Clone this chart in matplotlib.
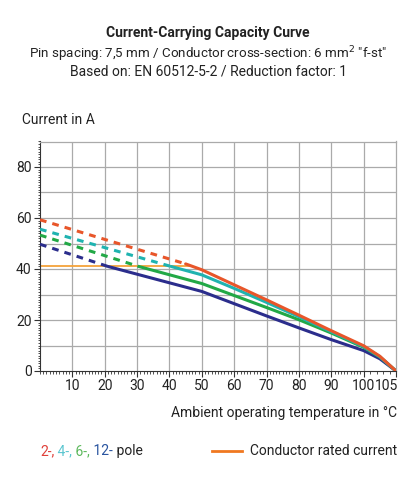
import numpy as np
import matplotlib
matplotlib.use("Agg")
import matplotlib.pyplot as plt

plt.rcParams['font.family'] = ['Roboto', 'DejaVu Sans']

# conductor rated current (A)
rated_current = 41

# dashed part (above rated current): start at 0 degC, end where it meets the rating
dash_x = {"2": [0, 45], "4": [0, 40.5], "6": [0, 30.5], "12": [0, 21]}
dash_y = {"2": [59.3, 42], "4": [55.6, 41], "6": [53.3, 41], "12": [49.7, 41]}

# solid part
solid_x = {
    "2": [45, 50, 60, 70, 80, 90, 100, 102.5, 105],
    "4": [40.5, 50, 60, 70, 80, 90, 100, 102.5, 105],
    "6": [30.5, 50, 60, 70, 80, 90, 100, 102.5, 105],
    "12": [21, 50, 60, 70, 80, 90, 100, 102.5, 105],
}
solid_y = {
    "2": [42, 39.7, 33.8, 27.9, 21.9, 15.8, 9.9, 5.8, 0],
    "4": [41, 37.7, 32.4, 26.9, 21.3, 15.4, 9.6, 5.6, 0],
    "6": [41, 34.3, 29.6, 24.9, 20.1, 14.9, 9.3, 5.5, 0],
    "12": [41, 31.2, 26.4, 21.6, 16.9, 12.3, 8, 4.8, 0],
}
colors = {"2": "#e8562a", "4": "#1fb3b0", "6": "#22a846", "12": "#2b2d8c"}
text_colors = {"2": "#e0403a", "4": "#5cc6d0", "6": "#5cb85c", "12": "#2a55a0"}

xticks = [10, 20, 30, 40, 50, 60, 70, 80, 90, 100, 105]
yticks = [0, 20, 40, 60, 80]


# the last 5 degrees take a full grid cell on the chart
def fwd(x):
    x = np.asarray(x, dtype=float)
    return np.where(x <= 100, x, 100 + (x - 100) * 2)


def inv(x):
    x = np.asarray(x, dtype=float)
    return np.where(x <= 100, x, 100 + (x - 100) / 2)


fig = plt.figure(figsize=(4.16, 4.88), dpi=100)
ax = fig.add_axes([40 / 416, 1 - 371 / 488, 356 / 416, 229.5 / 488])
ax.set_xscale('function', functions=(fwd, inv))
ax.set_xlim(0, 105)
ax.set_ylim(0, 90)

ax.set_xticks(xticks)
# last label is drawn separately so it can sit right-aligned at the edge
ax.set_xticklabels([str(t) for t in xticks[:-1]] + [""])
ax.set_xticks(np.arange(0, 106, 1), minor=True)
ax.set_yticks(yticks)
ax.set_yticks(np.arange(0, 91, 1), minor=True)
ax.grid(False)
for gx in range(10, 101, 10):
    ax.axvline(gx, color="#aaaaaa", lw=0.9, zorder=0)
for gy in range(10, 91, 10):
    ax.axhline(gy, color="#aaaaaa", lw=0.9, zorder=0)

ax.tick_params(which='major', length=4, width=0.8, color="#333333",
               labelsize=10, labelcolor="#222222", pad=2)
ax.tick_params(which='minor', length=1.8, width=0.6, color="#333333")
ax.annotate(str(xticks[-1]), xy=(xticks[-1], 0), xycoords=('data', 'axes fraction'),
            xytext=(1.5, -6), textcoords='offset points', ha='right', va='top',
            fontsize=10, color="#222222", annotation_clip=False)

for s in ['top', 'right']:
    ax.spines[s].set_color("#aaaaaa")
    ax.spines[s].set_linewidth(0.9)
for s in ['left', 'bottom']:
    ax.spines[s].set_color("#333333")
    ax.spines[s].set_linewidth(0.8)

# rated current line
ax.plot([0, 46.5], [rated_current, rated_current], color="#f5a33a", lw=1.3, zorder=2)

for k in ["12", "6", "4", "2"]:
    ax.plot(dash_x[k], dash_y[k], color=colors[k], lw=2.2, ls=(0, (2.2, 2.0)), zorder=3)
    ax.plot(solid_x[k], solid_y[k], color=colors[k], lw=2.2, zorder=3,
            solid_capstyle='round', solid_joinstyle='round')

# texts
fs = 10
fig.text(0.5, 1 - 33 / 488, "Current-Carrying Capacity Curve", ha='center', va='center',
         fontsize=fs, fontweight='bold', color="#222222")
fig.text(0.5, 1 - 54 / 488, 'Pin spacing: 7,5 mm / Conductor cross-section: 6 mm$^2$ "f-st"',
         ha='center', va='center', fontsize=9.6, color="#222222")
fig.text(0.5, 1 - 72 / 488, "Based on: EN 60512-5-2 / Reduction factor: 1", ha='center',
         va='center', fontsize=fs, color="#222222")
fig.text(22 / 416, 1 - 120 / 488, "Current in A", ha='left', va='center', fontsize=fs,
         color="#222222")
fig.text(397 / 416, 1 - 413 / 488, "Ambient operating temperature in °C", ha='right',
         va='center', fontsize=fs, color="#222222")

# legend: pole counts in their colours, then the rated current line
prev = fig.text(40 / 416, 1 - 458 / 488, "2-,", ha='left', va='bottom', fontsize=fs,
                color=text_colors["2"])
for s, c in [(" 4-,", text_colors["4"]), (" 6-,", text_colors["6"]),
             (" 12-", text_colors["12"]), (" pole", "#222222")]:
    prev = ax.annotate(s, xy=(1, 0), xycoords=prev, ha='left', va='bottom',
                       fontsize=fs, color=c, annotation_clip=False)
fig.lines.append(plt.Line2D([212 / 416, 242 / 416], [1 - 451 / 488, 1 - 451 / 488],
                            transform=fig.transFigure, color="#f07820", lw=2))
fig.text(397 / 416, 1 - 451 / 488, "Conductor rated current", ha='right', va='center',
         fontsize=fs, color="#222222")

fig.savefig("out.png", dpi=100)
